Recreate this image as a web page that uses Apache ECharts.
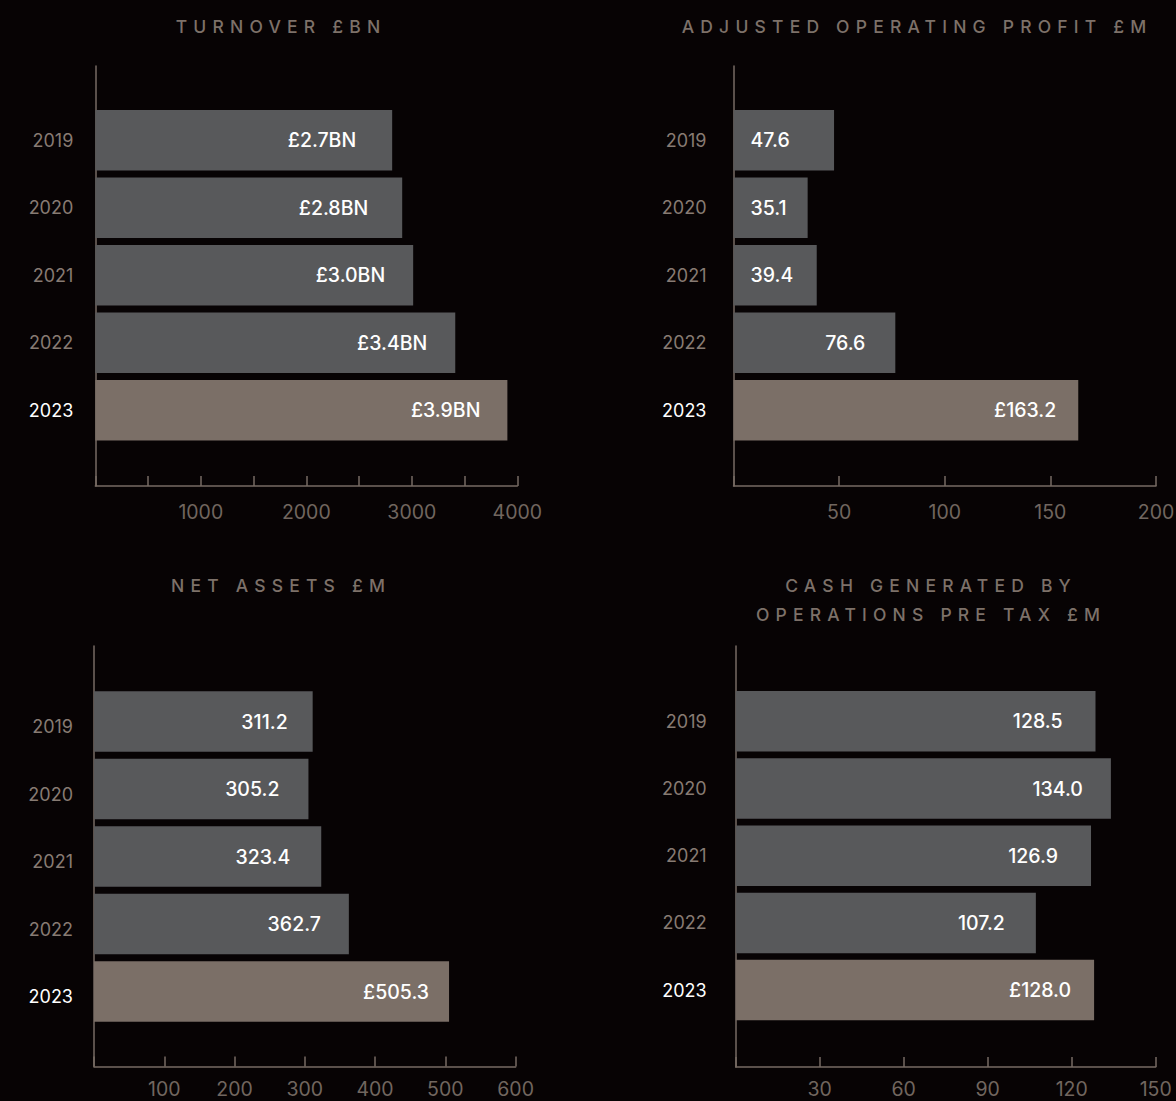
<!DOCTYPE html>
<html>
<head>
<meta charset="utf-8">
<script src="https://cdn.jsdelivr.net/npm/echarts@6/dist/echarts.min.js"></script>
<style>
html,body{margin:0;padding:0;background:#070304;}
#chart{width:1176px;height:1101px;}
</style>
</head>
<body>
<div id="chart"></div>
<script>
// ---------- data ----------
const years = ['2019', '2020', '2021', '2022', '2023'];

const turnoverTitle = 'TURNOVER £BN';
const turnoverValues = [2814, 2909, 3013, 3412, 3906];
const turnoverLabels = ['£2.7BN', '£2.8BN', '£3.0BN', '£3.4BN', '£3.9BN'];
const turnoverTicks = [1000, 2000, 3000, 4000];

const profitTitle = 'ADJUSTED OPERATING PROFIT £M';
const profitValues = [47.6, 35.1, 39.4, 76.6, 163.2];
const profitLabels = ['47.6', '35.1', '39.4', '76.6', '£163.2'];
const profitTicks = [50, 100, 150, 200];

const netAssetsTitle = 'NET ASSETS £M';
const netAssetsValues = [311.2, 305.2, 323.4, 362.7, 505.3];
const netAssetsLabels = ['311.2', '305.2', '323.4', '362.7', '£505.3'];
const netAssetsTicks = [100, 200, 300, 400, 500, 600];

const cashTitle = 'CASH GENERATED BY\nOPERATIONS PRE TAX £M';
const cashValues = [128.5, 134.0, 126.9, 107.2, 128.0];
const cashLabels = ['128.5', '134.0', '126.9', '107.2', '£128.0'];
const cashTicks = [30, 60, 90, 120, 150];

// ---------- style ----------
const BG = '#070304';
const GREY = '#58595b';
const HIGHLIGHT = '#7b6f67';
const AXIS = '#776b63';
const TICK_TEXT = '#71665f';
const YEAR_TEXT = '#877b73';
const TITLE = '#7d7169';
const FONT = 'Inter, "Liberation Sans", sans-serif';
const LS = 6.2; // title letter spacing

const panels = [
  { title: turnoverTitle, values: turnoverValues, labels: turnoverLabels, ticks: turnoverTicks, minorStep: 500,
    frame: { left: 95.3, top: 66, width: 422, height: 420 }, barsTop: 106.5, barsHeight: 337.5,
    yMargin: 22, yShift: false, xMargin: 16, titleX: 278, titleTop: 12,
    labelPos: ['insideRight','insideRight','insideRight','insideRight','insideRight'], labelDist: [36, 34, 28, 28, 27] },
  { title: profitTitle, values: profitValues, labels: profitLabels, ticks: profitTicks, minorStep: 50,
    frame: { left: 733.5, top: 66, width: 422.5, height: 420 }, barsTop: 106.5, barsHeight: 337.5,
    yMargin: 27, yShift: false, xMargin: 16, titleX: 914, titleTop: 12,
    labelPos: ['insideLeft','insideLeft','insideLeft','insideRight','insideRight'], labelDist: [17, 17, 17, 30, 22] },
  { title: netAssetsTitle, values: netAssetsValues, labels: netAssetsLabels, ticks: netAssetsTicks, minorStep: 100,
    frame: { left: 94, top: 646, width: 421.6, height: 420.5 }, barsTop: 687.8, barsHeight: 337.5,
    yMargin: 21, yShift: true, xMargin: 12, titleX: 278, titleTop: 571,
    labelPos: ['insideRight','insideRight','insideRight','insideRight','insideRight'], labelDist: [25, 29, 31, 28, 20] },
  { title: cashTitle, values: cashValues, labels: cashLabels, ticks: cashTicks, minorStep: 30,
    frame: { left: 735.7, top: 646, width: 420, height: 421 }, barsTop: 687.7, barsHeight: 336,
    yMargin: 29, yShift: false, xMargin: 12, titleX: 928, titleTop: 571,
    labelPos: ['insideRight','insideRight','insideRight','insideRight','insideRight'], labelDist: [33, 28, 33, 31, 23] }
];

const grid = [], xAxis = [], yAxis = [], series = [], title = [];
panels.forEach((p, k) => {
  const gf = 2 * k, gb = 2 * k + 1;
  const max = p.ticks[p.ticks.length - 1];
  grid.push({ left: p.frame.left, top: p.frame.top, width: p.frame.width, height: p.frame.height, containLabel: false, outerBoundsMode: 'none' });
  grid.push({ left: p.frame.left, top: p.barsTop, width: p.frame.width, height: p.barsHeight, containLabel: false, outerBoundsMode: 'none' });
  xAxis.push({
    gridIndex: gf, type: 'value', min: 0, max: max, interval: p.minorStep, position: 'bottom',
    axisLine: { show: true, onZero: false, lineStyle: { color: AXIS, width: 1.5 } },
    axisTick: { show: true, inside: true, length: 10, lineStyle: { color: AXIS, width: 1.5 } },
    axisLabel: { show: true, color: TICK_TEXT, fontSize: 19.5, fontFamily: FONT, margin: p.xMargin,
      formatter: v => (p.ticks.indexOf(v) >= 0 ? String(v) : '') },
    splitLine: { show: false }
  });
  yAxis.push({
    gridIndex: gf, type: 'value', min: 0, max: 1, position: 'left',
    axisLine: { show: true, onZero: false, lineStyle: { color: AXIS, width: 1.5 } },
    axisTick: { show: false }, axisLabel: { show: false }, splitLine: { show: false }
  });
  xAxis.push({ gridIndex: gb, type: 'value', min: 0, max: max, show: false, splitLine: { show: false } });
  const yLabel = { margin: p.yMargin, fontSize: 18, fontFamily: FONT,
    color: (v, i) => (i === years.length - 1 ? '#ffffff' : YEAR_TEXT) };
  if (p.yShift) { yLabel.verticalAlign = 'top'; yLabel.lineHeight = 10; }
  yAxis.push({
    gridIndex: gb, type: 'category', data: years, inverse: true,
    axisLine: { show: false }, axisTick: { show: false }, splitLine: { show: false },
    axisLabel: yLabel
  });
  series.push({
    type: 'bar', xAxisIndex: gb, yAxisIndex: gb, barWidth: 60.5, silent: true,
    data: p.values.map((v, i) => ({
      value: v,
      itemStyle: { color: i === p.values.length - 1 ? HIGHLIGHT : GREY },
      label: { position: p.labelPos[i], distance: p.labelDist[i] }
    })),
    label: { show: true, color: '#ffffff', fontSize: 19.5, fontWeight: 500, fontFamily: FONT,
      formatter: params => p.labels[params.dataIndex] }
  });
  title.push({
    text: p.title, left: p.titleX, top: p.titleTop, textAlign: 'center', padding: 0,
    textStyle: { color: TITLE, fontSize: 17.5, fontWeight: 500, fontFamily: FONT, lineHeight: 29 }
  });
});

const option = {
  backgroundColor: BG,
  animation: false,
  title: title,
  grid: grid,
  xAxis: xAxis,
  yAxis: yAxis,
  series: series
};

const dom = document.getElementById('chart');
const chart = echarts.init(dom, null, { renderer: 'svg' });
chart.setOption(option);

const titleLines = [];
panels.forEach(p => p.title.split('\n').forEach(l => titleLines.push(l)));
function applySpacing() {
  dom.querySelectorAll('svg text').forEach(t => {
    if (titleLines.indexOf(t.textContent) >= 0 && !t.getAttribute('data-ls')) {
      t.setAttribute('letter-spacing', LS);
      const x = parseFloat(t.getAttribute('x') || '0');
      t.setAttribute('x', x + LS / 2);
      t.setAttribute('data-ls', '1');
    }
  });
}
try { chart.getZr().flush(); } catch (e) {}
applySpacing();
chart.on('finished', applySpacing);
requestAnimationFrame(applySpacing);
setTimeout(applySpacing, 30);
</script>
</body>
</html>
